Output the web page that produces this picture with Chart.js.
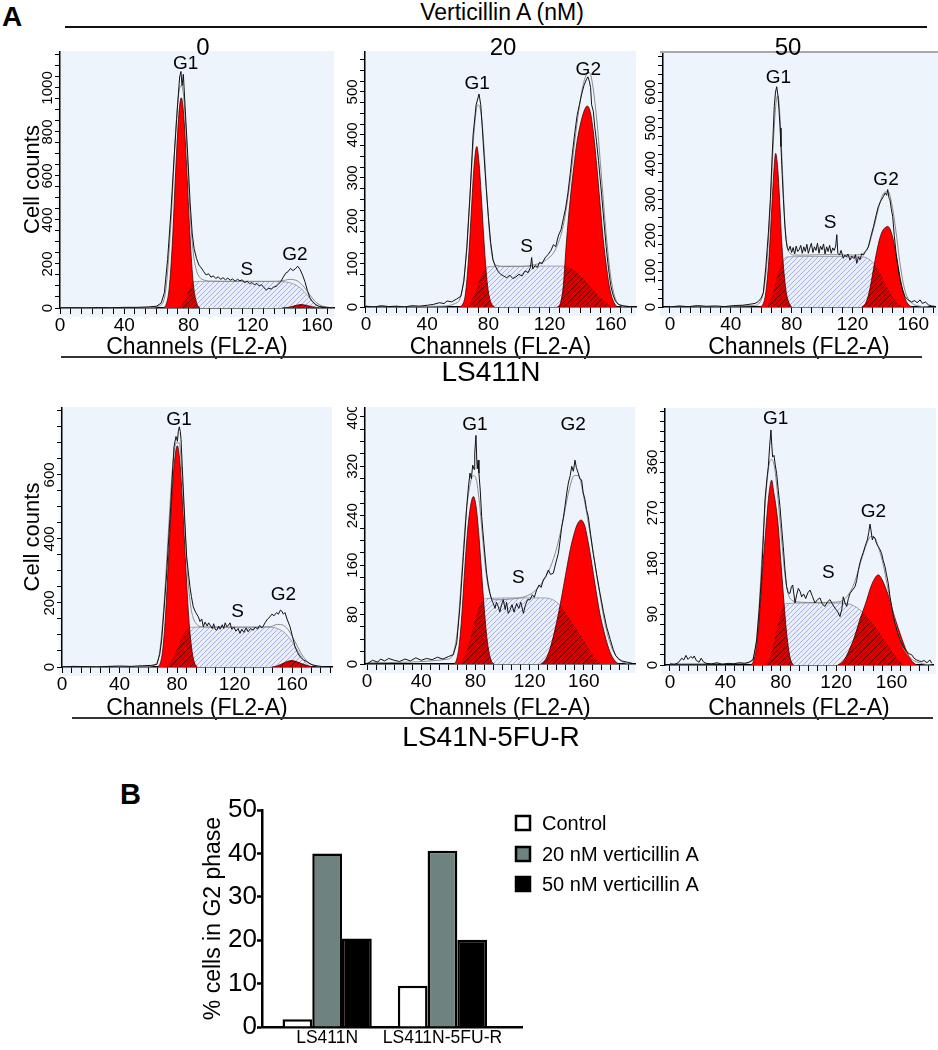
<!DOCTYPE html>
<html><head><meta charset="utf-8">
<script src="https://cdn.jsdelivr.net/npm/chart.js@4.4.1/dist/chart.umd.min.js"></script>
<style>
html,body{margin:0;padding:0;background:#fff;}
#fig{position:relative;width:938px;height:1050px;overflow:hidden;background:#fff;font-family:'Liberation Sans',Arial,sans-serif;}
#fig canvas{position:absolute;}
.t{position:absolute;white-space:nowrap;line-height:1;color:#000;z-index:3;}
.hl{position:absolute;z-index:2;}
</style></head><body><div id="fig"></div>
<script>
// ---------------- DATA ----------------
// Each histogram: [channel, cell count] pairs
const p1Obs = [[0,0],[8,1],[16,0],[24,2],[32,1],[40,3],[48,3],[55,5],[60,8],[63,22],[65,70],[67,220],[69,430],[71,680],[73,900],[74.5,1050],[75.3,1075],[76,1010],[76.8,1062],[78,900],[79.5,700],[81,480],[82.3,340],[83.5,270],[85,225],[86.5,195],[88,182],[89.5,165],[91,150],[92.5,156],[94,140],[95.5,146],[97,134],[98.5,142],[100,130],[101.5,138],[103,128],[104.5,136],[106,126],[107.5,132],[109,122],[110.5,130],[112,124],[113.5,128],[115,115],[116.5,122],[118,110],[119.5,116],[121,105],[122.5,112],[124,100],[125.5,106],[127,92],[128.5,82],[130,90],[131.5,86],[133,95],[134.5,98],[136,108],[137.5,120],[139,140],[140.5,158],[142,165],[143.5,180],[145,170],[146.5,178],[148,190],[149.5,175],[151,150],[152.5,120],[154,80],[155.5,48],[157,30],[159,16],[161,8],[164,4],[168,2],[170,1]];
const p1Fit = [[0,0],[55,2],[62,10],[66,90],[69,380],[72,800],[74,980],[75.5,1010],[77,960],[79,720],[81,430],[83,250],[85,170],[87,140],[90,126],[95,122],[110,121],[130,121],[138,123],[143,130],[148,122],[152,95],[156,55],[160,22],[165,5],[170,1]];
const p1G1 = [[64,0],[66,15],[68,90],[70,300],[72,620],[74,880],[75.5,955],[77,880],[79,620],[81,320],[83,110],[85,25],[87,0]];
const p1S = [[72,0],[75,8],[78,40],[80,80],[82,110],[84,120],[90,121],[110,121],[130,121],[138,120],[143,115],[148,100],[152,75],[156,40],[160,12],[163,0]];
const p1G2 = [[138,0],[143,4],[147,12],[150,16],[153,13],[157,6],[161,1],[164,0]];
const p1Notes = [['G1',78.3,1112],['S',116.3,173],['G2',146.3,241]];

const p2Obs = [[0,2],[5,0],[10,3],[15,1],[20,2],[25,0],[30,3],[35,2],[40,4],[44,6],[48,10],[51,8],[53,14],[56,12],[59,18],[62,25],[64,60],[66,140],[68,260],[70,400],[72,470],[73.9,495],[75,470],[75.8,430],[77,360],[78.5,280],[80,210],[81.5,150],[83,110],[84.5,95],[86.5,82],[88,76],[90,72],[92,68],[94,74],[96,66],[98,70],[100,76],[102,72],[104,84],[106,80],[107.5,92],[108.3,115],[109,88],[110.5,96],[112,92],[113.5,104],[115,100],[117,114],[119,122],[121,132],[122.5,145],[124,140],[125.7,165],[127.5,180],[129,205],[130.5,230],[132,265],[133.5,310],[135,360],[136.5,405],[138,445],[139.5,470],[141,495],[142.5,515],[144,528],[145,535],[146,525],[146.8,510],[147.5,470],[148.6,455],[149.5,420],[150.7,385],[152,340],[153,300],[154,262],[155.5,200],[157,140],[158.5,90],[160,50],[161.5,28],[163,14],[165,6],[168,3],[172,1],[176,0]];
const p2Fit = [[0,0],[50,2],[58,8],[62,25],[65,100],[68,260],[70.5,400],[73,470],[75,455],[77,380],[79,260],[81,160],[83,110],[86,96],[90,94],[100,94],[110,98],[118,110],[124,135],[129,190],[133,280],[137,400],[141,500],[144,540],[146,545],[148,520],[151,430],[154,300],[157,170],[160,70],[163,20],[166,4],[170,0]];
const p2G1 = [[61,0],[63,5],[65,30],[67,110],[69,230],[70.5,320],[72.4,373],[74,330],[75.5,250],[77,160],[78.5,85],[80,35],[82,8],[84,0]];
const p2S = [[64,0],[67,6],[70,22],[73,50],[75.5,75],[78,90],[80,94],[90,95],[110,95],[128,95],[132,93],[136,86],[140,74],[144,58],[148,42],[152,26],[156,13],[160,4],[163,0]];
const p2G2 = [[125,0],[127,8],[129,50],[131,150],[133.5,250],[136,330],[138,385],[140.5,430],[142.5,455],[144.6,467],[146.5,455],[148.5,410],[150.8,330],[153,240],[155,160],[157.3,90],[159.5,40],[161.5,15],[164,0]];
const p2Notes = [['G1',72.7,520],['S',105,140],['G2',145.3,551]];

const p3Obs = [[0,0],[6,3],[12,1],[18,4],[24,2],[30,3],[36,1],[42,4],[48,5],[53,8],[56,10],[58,15],[60,25],[61.4,40],[63,110],[64.7,206],[66,300],[66.9,392],[67.8,480],[68.6,560],[69.4,600],[70.2,615],[71,590],[71.7,550],[72.4,500],[73,448],[73.8,370],[74.6,300],[75.5,230],[76.3,188],[77.2,165],[78,158],[79,170],[80,152],[81,166],[82,148],[83,170],[84,155],[85,160],[86,172],[87,150],[88,168],[89,155],[90,175],[91,150],[92,165],[93,178],[94,152],[95,168],[96,158],[97,178],[98,150],[99,170],[100,160],[101,176],[102,148],[103,168],[104,155],[105,172],[106,150],[107,165],[108,158],[109,170],[109.7,202],[110.4,150],[111.5,145],[112.5,158],[114,136],[115,145],[116,140],[117,148],[118.4,131],[119.5,142],[121,135],[122,146],[122.8,122],[124,140],[125,132],[126,148],[127.2,145],[128.5,155],[129.5,160],[130.5,168],[132,195],[133.8,224],[135.5,255],[137,280],[138.5,295],[140.3,308],[141.5,318],[142.5,312],[143.2,328],[144,305],[144.7,299],[145.5,275],[146.5,252],[147.5,200],[148.7,150],[150,110],[151.3,75],[153,48],[154.6,29],[156.5,20],[159,14],[161,18],[162.5,12],[164.5,20],[166,10],[168,14],[170,6],[172,3],[174,2]];
const p3Fit = [[0,0],[55,4],[60,20],[63,90],[65.5,240],[67.5,420],[69.5,560],[71,590],[72.5,520],[74,380],[75.5,240],[77,170],[79,150],[82,145],[90,145],[100,146],[110,146],[120,145],[126,148],[130,165],[134,220],[138,290],[141,320],[143.5,322],[146,285],[148.5,215],[151,130],[153.5,65],[156,28],[160,8],[165,2],[170,0]];
const p3G1 = [[59,0],[61,6],[63,40],[65,130],[67,280],[68.5,390],[69.5,429],[70.8,390],[72.2,290],[73.5,180],[75,95],[76.5,40],[78.5,10],[80,0]];
const p3S = [[62,0],[64,5],[66,20],[68,45],[70,78],[72,108],[74,128],[76,138],[78,140],[90,141],[110,141],[126,140],[130,136],[133,126],[136,110],[139,88],[142,62],[145,38],[148,18],[151,6],[154,0]];
const p3G2 = [[126,0],[128,6],[130,25],[132,62],[134,110],[136,155],[138,192],[140,214],[142,223],[143.2,225],[145,215],[147,185],[149,140],[151,90],[153,48],[155,20],[157,6],[159,0]];
const p3Notes = [['G1',71.3,639],['S',105.3,234],['G2',142.1,355]];

const p4Obs = [[0,0],[8,2],[16,1],[24,0],[32,2],[40,3],[48,2],[56,4],[62,5],[66,8],[68,40],[69.3,84],[71,180],[72.8,293],[74.2,400],[75.6,501],[76.8,600],[77.9,688],[79.3,720],[80.3,705],[80.9,735],[81.6,750],[82.3,735],[82.8,710],[83.6,630],[84.4,553],[85.5,450],[86.7,345],[88,290],[89,251],[90,220],[91.3,188],[93,170],[94.8,157],[96,142],[97.2,150],[98.3,126],[99.5,140],[101,128],[102,138],[103,131],[104.5,120],[105.5,135],[106.5,118],[107.6,115],[109,128],[110,118],[111.5,132],[112.5,120],[113.5,138],[114.6,126],[115.8,130],[116.9,138],[118,118],[119.5,125],[121,112],[122.5,120],[123.8,105],[125,118],[126.5,108],[128,122],[129.5,110],[131,120],[133.1,115],[134.5,125],[136,118],[137.5,130],[139,122],[140,128],[141.5,140],[143,150],[144.7,157],[146,165],[147.5,160],[149.3,170],[150.5,165],[152,178],[152.8,175],[154,165],[155.1,170],[156.5,150],[158.6,126],[160.3,95],[162.1,63],[163.8,45],[165.6,32],[168,22],[170.2,17],[172.5,10],[174.8,6],[178,3],[182,1],[186,0]];
const p4Fit = [[0,0],[60,2],[65,8],[68,50],[71,200],[74,420],[77,630],[79.5,700],[81.5,700],[83.5,600],[85.5,430],[87.5,280],[89.5,190],[91.5,150],[94,132],[98,125],[110,124],[130,124],[145,126],[150,133],[154,130],[158,112],[162,80],[166,45],[170,20],[174,7],[178,2],[182,0]];
const p4G1 = [[66,0],[68,8],[70,50],[72,160],[74,330],[76,500],[78,630],[80.2,691],[82,640],[84,500],[86,320],[88,165],[90,65],[92,15],[94,0]];
const p4S = [[71,0],[73,4],[76,18],[79,45],[82,78],[85,105],[87.5,118],[90,124],[110,125],[130,125],[146,124],[150,120],[154,110],[158,92],[162,65],[166,36],[169,15],[172,3],[174,0]];
const p4G2 = [[146,0],[150,4],[154,12],[157,18],[160,20],[163,17],[167,10],[171,4],[175,0]];
const p4Notes = [['G1',81.4,772],['S',122.2,173],['G2',154,225]];

const p5Obs = [[0,0],[4,6],[8,3],[10,8],[13,5],[16,9],[20,6],[24,4],[28,8],[32,5],[36,10],[40,6],[44,9],[48,7],[52,11],[56,8],[60,12],[63.7,15],[66.2,34],[68.6,93],[71.1,174],[73.6,255],[75,290],[76,309],[77,300],[78,322],[79,315],[79.5,341],[80.4,370],[81,330],[81.4,316],[82,330],[82.6,309],[83.6,280],[84.6,239],[85.5,215],[86.3,195],[87.3,170],[88.3,147],[89.5,128],[90.8,114],[92,104],[93.2,98],[94.5,90],[95.5,100],[96.9,93],[98,84],[99.3,96],[100.6,104],[102,88],[103,100],[104.2,82],[105.5,87],[107,96],[108.5,84],[110.4,98],[112,90],[113.5,100],[115.4,82],[117,96],[118.5,104],[120.3,104],[122,112],[123.5,108],[125.2,120],[127,128],[128.5,124],[130.1,136],[132,142],[133.8,152],[135.5,145],[137.5,147],[139.5,165],[141.2,179],[142.5,200],[143.7,222],[145,238],[146.1,255],[147.3,275],[148.6,293],[150,305],[151.1,320],[152.3,312],[153.5,330],[154.5,318],[155.9,309],[157,300],[158.4,298],[159.5,278],[160.9,266],[162,250],[163.3,239],[165,210],[167,179],[169.5,145],[172,114],[174.5,85],[176.9,60],[179.5,40],[181.8,23],[183.5,14],[185.5,9],[188,5],[192,3],[196,1]];
const p5Fit = [[0,2],[60,8],[64,20],[67,60],[70,150],[73,240],[76,290],[78.5,305],[80.5,300],[83,260],[85.5,200],[88,145],[90.5,115],[93,104],[97,104],[105,105],[115,108],[122,115],[128,128],[134,150],[139,180],[144,225],[149,280],[153,305],[156,305],[160,270],[164,220],[168,165],[172,110],[176,62],[180,30],[184,12],[188,4],[194,0]];
const p5G1 = [[64,0],[66,6],[68,30],[70,80],[72,150],[74,210],[76,250],[78.5,271],[80.5,255],[82.5,210],[84.5,150],[86.5,90],[88.5,42],[90.5,14],[92.5,2],[94,0]];
const p5S = [[67,0],[70,5],[73,18],[76,40],[79,66],[82,88],[85,101],[88,106],[110,107],[130,107],[136,105],[140,100],[145,88],[150,72],[155,55],[160,38],[165,20],[169,8],[173,0]];
const p5G2 = [[128,0],[131,5],[134,18],[137,40],[140,68],[142.5,95],[145,125],[148,162],[150,185],[152.5,208],[155,225],[157.9,233],[160.5,225],[163,200],[165,175],[167,147],[169.5,112],[172,80],[174.4,57],[177,35],[180,16],[183,5],[186,0]];
const p5Notes = [['G1',79.7,387],['S',111.7,139],['G2',152.2,387]];

const p6Obs = [[0,2],[3,1],[6,4],[8.5,12],[10,9],[11.5,17],[13,10],[15,15],[16.5,12],[17.5,16],[19,8],[21,5],[22.5,12],[24,6],[26,3],[30,2],[34,4],[38,1],[42,3],[46,2],[50,4],[54,3],[57,5],[60,9],[62.6,44],[64.5,100],[66.2,163],[67.5,230],[68.6,293],[70,330],[71,352],[72,390],[72.9,417],[73.5,390],[74.1,369],[75.1,372],[76,355],[77,340],[78.2,310],[79.4,281],[80.6,245],[81.8,210],[83,170],[84.2,139],[85.4,128],[86.6,127],[87.6,138],[88.6,142],[89.5,125],[90.3,110],[91.5,125],[92.7,136],[94,130],[95.1,121],[96.5,126],[98,118],[99.5,128],[101.1,133],[102.8,122],[104.7,110],[106.5,116],[108.3,119],[110,108],[111.9,104],[113.7,112],[115.5,116],[117.3,108],[119.1,101],[121,95],[122.7,86],[124,98],[125.1,121],[126.4,110],[127.6,104],[128.8,118],[130,127],[131.8,133],[133.6,139],[134.8,150],[136,168],[137.2,182],[138.4,192],[139.6,200],[140.8,210],[141.6,216],[142.5,222],[143.5,235],[144.4,250],[145.2,238],[146.1,222],[147,228],[148,225],[149.2,215],[150.4,210],[151.6,205],[152.8,198],[154,185],[155.2,175],[156.4,160],[157.6,145],[158.8,122],[160,104],[161.2,88],[162.5,74],[164.3,58],[166.1,44],[168.5,32],[170.9,24],[172.7,20],[174.5,18],[176.3,12],[178.1,9],[180,7],[181.7,6],[183.5,8],[185.5,4],[187.7,9],[189,3]];
const p6Fit = [[0,2],[55,3],[59,8],[62,35],[64.5,110],[67,220],[69.5,310],[71.5,355],[73.5,365],[75.5,350],[78,295],[80.5,225],[83,160],[85.5,125],[88,115],[92,112],[100,111],[112,111],[122,112],[128,122],[133,145],[138,185],[142,215],[145,228],[148,225],[151,205],[154,178],[157,140],[160,105],[163,72],[166,46],[169,28],[172,17],[176,8],[180,4],[185,1],[189,0]];
const p6G1 = [[58,0],[60,5],[62,25],[64,70],[65.5,120],[67,175],[68.6,222],[70,265],[71.8,310],[73.4,328],[75,305],[76.6,280],[78.2,245],[80,185],[81.8,127],[83.6,72],[85.4,32],[87,10],[89,0]];
const p6S = [[68,0],[70,4],[72,14],[74,30],[76,50],[78,72],[80,92],[82,104],[84,109],[100,110],[120,110],[128,109],[132,106],[136,100],[140,92],[145,78],[150,62],[155,44],[160,26],[164,12],[167,4],[169,0]];
const p6G2 = [[121,0],[124,4],[127,14],[130,30],[132.5,45],[134.8,62],[137,80],[139.5,97],[142,115],[144.5,135],[147,150],[150.4,160],[153,152],[155.5,138],[158.8,115],[161,95],[163.5,75],[166.1,56],[169,36],[172,18],[175,6],[178,0]];
const p6Notes = [['G1',76.3,437],['S',114.3,163],['G2',146.8,272]];

// Panel B
const cellLines = ['LS411N', 'LS411N-5FU-R'];
const seriesNames = ['Control', '20 nM verticillin A', '50 nM verticillin A'];
const control = [1.8, 9.5];
const nm20 = [40.0, 40.6];
const nm50 = [20.4, 20.1];

// ---------------- LAYOUT ----------------
const FONT = "'Liberation Sans', Arial, sans-serif";
Chart.defaults.font.family = FONT;
Chart.defaults.color = '#000';
const fig = document.getElementById('fig');

const panels = [
  {obs:p1Obs, fit:p1Fit, g1:p1G1, s:p1S, g2:p1G2, notes:p1Notes, area:[60,51,334,308], x:[0,170.6], ymax:1168, minor:50, major:200, maxLabel:1000, yTitle:'Cell counts', bottom:361},
  {obs:p2Obs, fit:p2Fit, g1:p2G1, s:p2S, g2:p2G2, notes:p2Notes, area:[365,51,636,307], x:[-0.65,176.5], ymax:595, minor:25, major:100, maxLabel:500, bottom:361},
  {obs:p3Obs, fit:p3Fit, g1:p3G1, s:p3S, g2:p3G2, notes:p3Notes, area:[663,52,935,307], x:[-4.6,174.3], ymax:712, minor:25, major:100, maxLabel:600, bottom:361},
  {obs:p4Obs, fit:p4Fit, g1:p4G1, s:p4S, g2:p4G2, notes:p4Notes, area:[62,407,332,667], x:[0,187.8], ymax:812, minor:50, major:200, maxLabel:600, yTitle:'Cell counts', bottom:722},
  {obs:p5Obs, fit:p5Fit, g1:p5G1, s:p5S, g2:p5G2, notes:p5Notes, area:[365,407,635,664], x:[-1.5,197.8], ymax:416, minor:20, major:80, maxLabel:400, bottom:722},
  {obs:p6Obs, fit:p6Fit, g1:p6G1, s:p6S, g2:p6G2, notes:p6Notes, area:[665,408,933,665], x:[-3.6,189.9], ymax:456, minor:18, major:90, maxLabel:360, bottom:722}
];

function hatch(bg, line, size, lw) {
  const c = document.createElement('canvas'); c.width = size; c.height = size;
  const g = c.getContext('2d');
  if (bg) { g.fillStyle = bg; g.fillRect(0, 0, size, size); }
  g.strokeStyle = line; g.lineWidth = lw; g.beginPath();
  g.moveTo(0, size); g.lineTo(size, 0);
  g.moveTo(-size/2, size/2); g.lineTo(size/2, -size/2);
  g.moveTo(size/2, size*1.5); g.lineTo(size*1.5, size/2);
  g.stroke();
  return g.createPattern(c, 'repeat');
}
const sPattern = hatch('#e9eefa', '#a3b1e0', 5, 1);
const darkPattern = hatch(null, 'rgba(60,0,0,0.75)', 5, 1);

const bgPlugin = {
  id: 'panelBg',
  beforeDraw(chart, args, o) {
    const {ctx, chartArea: a} = chart;
    ctx.save(); ctx.fillStyle = '#eef4fb';
    ctx.fillRect(a.left - 3, a.top, a.right - a.left + 3 + (o.extraRight || 0), a.bottom - a.top + 9);
    ctx.restore();
  }
};
function tracePath(ctx, meta, yb) {
  const pts = meta.data;
  meta.dataset.path(ctx);
  ctx.lineTo(pts[pts.length - 1].x, yb);
  ctx.lineTo(pts[0].x, yb);
  ctx.closePath();
}
const overlapPlugin = {
  id: 'overlap',
  afterDatasetDraw(chart, args, o) {
    if (args.index !== o.after) return;
    const ctx = chart.ctx, a = chart.chartArea, yb = chart.scales.y.getPixelForValue(0);
    ctx.save();
    ctx.beginPath(); ctx.rect(a.left, a.top, a.right - a.left, a.bottom - a.top); ctx.clip();
    ctx.beginPath(); tracePath(ctx, chart.getDatasetMeta(o.s), yb); ctx.clip();
    o.reds.forEach(i => {
      ctx.beginPath(); tracePath(ctx, chart.getDatasetMeta(i), yb);
      ctx.fillStyle = 'rgba(120,0,0,0.3)'; ctx.fill();
      ctx.fillStyle = darkPattern; ctx.fill();
    });
    ctx.restore();
  }
};
const rotTickPlugin = {
  id: 'rotTicks',
  afterDraw(chart, args, o) {
    const s = chart.scales.y, ctx = chart.ctx;
    ctx.save();
    ctx.font = o.size + 'px ' + FONT; ctx.fillStyle = '#000';
    ctx.textAlign = 'center'; ctx.textBaseline = 'middle';
    s.ticks.forEach(t => {
      const r = t.value / o.major;
      if (Math.abs(r - Math.round(r)) < 1e-6 && t.value <= o.maxLabel + 1e-6) {
        ctx.save();
        ctx.translate(s.right - o.offset, s.getPixelForValue(t.value));
        ctx.rotate(-Math.PI / 2);
        ctx.fillText(String(Math.round(t.value)), 0, 1);
        ctx.restore();
      }
    });
    ctx.restore();
  }
};
const notesPlugin = {
  id: 'notes',
  afterDatasetsDraw(chart, args, o) {
    const ctx = chart.ctx, xs = chart.scales.x, ys = chart.scales.y;
    ctx.save();
    ctx.font = o.size + 'px ' + FONT; ctx.fillStyle = '#000';
    ctx.textAlign = 'center'; ctx.textBaseline = 'middle';
    o.items.forEach(([txt, x, y]) => ctx.fillText(txt, xs.getPixelForValue(x), ys.getPixelForValue(y)));
    ctx.restore();
  }
};

function makeCanvas(left, top, w, h) {
  const c = document.createElement('canvas');
  c.width = w; c.height = h;
  c.style.left = left + 'px'; c.style.top = top + 'px';
  c.style.width = w + 'px'; c.style.height = h + 'px';
  fig.appendChild(c);
  return c;
}
const xy = arr => arr.map(([x, y]) => ({x, y}));

panels.forEach((p, i) => {
  const [L, T, R, B] = p.area;
  const cLeft = p.yTitle ? 20 : L - 30;
  const extra = (i % 3 === 2) ? 3 : 0;
  const cRight = R + 2 + extra;
  const canvas = makeCanvas(cLeft, T, cRight - cLeft, p.bottom - T);
  new Chart(canvas, {
    type: 'line',
    data: { datasets: [
      {label: 'Observed', data: xy(p.obs), borderColor: '#111', borderWidth: 1, tension: 0, fill: false, order: 0},
      {label: 'Fit', data: xy(p.fit), borderColor: '#8a8a8a', borderWidth: 1, cubicInterpolationMode: 'monotone', fill: false, order: 1},
      {label: 'G1', data: xy(p.g1), borderColor: '#4a0000', borderWidth: 0.8, backgroundColor: '#ff0000', fill: 'origin', cubicInterpolationMode: 'monotone', order: 2},
      {label: 'G2', data: xy(p.g2), borderColor: '#4a0000', borderWidth: 0.8, backgroundColor: '#ff0000', fill: 'origin', cubicInterpolationMode: 'monotone', order: 3},
      {label: 'S', data: xy(p.s), borderColor: '#8d8fa0', borderWidth: 0.8, backgroundColor: sPattern, fill: 'origin', cubicInterpolationMode: 'monotone', order: 4}
    ]},
    options: {
      responsive: false, animation: false, devicePixelRatio: 1,
      layout: {padding: {left: 0, top: 0, right: cRight - R, bottom: 0}},
      elements: {point: {radius: 0, hoverRadius: 0}},
      events: [],
      plugins: {
        legend: {display: false}, tooltip: {enabled: false},
        panelBg: {extraRight: extra},
        overlap: {s: 4, reds: [2, 3], after: 2},
        rotTicks: {major: p.major, maxLabel: p.maxLabel, offset: 13, size: 15},
        notes: {items: p.notes, size: 19}
      },
      scales: {
        x: {
          type: 'linear', min: p.x[0], max: p.x[1], offset: false,
          afterBuildTicks: s => { const t = []; for (let k = 0; k * 40 / 6 <= s.max + 1e-9; k++) t.push({value: k * 40 / 6}); s.ticks = t; },
          afterFit: s => { s.height = p.bottom - B; },
          ticks: {autoSkip: false, maxRotation: 0, minRotation: 0, padding: 0, font: {size: 19}, color: '#000',
            callback: v => { const r = v / 40; return Math.abs(r - Math.round(r)) < 1e-6 ? String(Math.round(v)) : ''; }},
          grid: {display: true, drawOnChartArea: false, drawTicks: true, tickLength: 6, tickColor: '#000', tickWidth: 1},
          border: {display: true, color: '#000', width: 1.5},
          title: {display: true, text: 'Channels (FL2-A)', font: {size: 23}, padding: 0, color: '#000'}
        },
        y: {
          type: 'linear', min: 0, max: p.ymax,
          afterBuildTicks: s => { const t = []; for (let v = 0; v <= s.max + 1e-9; v += p.minor) t.push({value: v}); s.ticks = t; },
          afterFit: s => { s.width = L - cLeft; },
          ticks: {display: false},
          grid: {display: true, drawOnChartArea: false, drawTicks: true, tickLength: 5, tickColor: '#000', tickWidth: 1},
          border: {display: true, color: '#000', width: 1.5},
          title: p.yTitle ? {display: true, text: p.yTitle, font: {size: 22}, padding: 0, color: '#000'} : {display: false}
        }
      }
    },
    plugins: [bgPlugin, overlapPlugin, rotTickPlugin, notesPlugin]
  });
});

// ---------------- Panel B bar chart ----------------
const barLegend = {
  id: 'barLegend',
  afterDraw(chart, args, o) {
    const ctx = chart.ctx, a = chart.chartArea;
    ctx.save();
    chart.data.datasets.forEach((ds, i) => {
      const y = a.top + o.rows[i];
      const bx = a.right + o.boxDx;
      ctx.fillStyle = ds.backgroundColor;
      ctx.fillRect(bx, y - o.box / 2, o.box, o.box);
      ctx.lineWidth = 2.5; ctx.strokeStyle = '#000';
      ctx.strokeRect(bx, y - o.box / 2, o.box, o.box);
      ctx.fillStyle = '#000'; ctx.font = o.size + 'px ' + FONT;
      ctx.textAlign = 'left'; ctx.textBaseline = 'middle';
      ctx.fillText(ds.label, a.right + o.textDx, y + 1);
    });
    ctx.restore();
  }
};
(function () {
  const L = 262, T = 810, R = 522, B = 1027;
  const cLeft = 200, cTop = 790, cRight = 720, cBottom = 1050;
  const canvas = makeCanvas(cLeft, cTop, cRight - cLeft, cBottom - cTop);
  const colors = ['#ffffff', '#6e827f', '#000000'];
  const vals = [control, nm20, nm50];
  new Chart(canvas, {
    type: 'bar',
    data: { datasets: vals.map((v, i) => ({
      label: seriesNames[i], data: v.map((y, k) => ({x: k, y})),
      backgroundColor: colors[i], borderColor: '#000', borderWidth: 2.5,
      categoryPercentage: 0.774, barPercentage: 1
    }))},
    options: {
      responsive: false, animation: false, devicePixelRatio: 1, events: [],
      layout: {padding: {left: 0, top: T - cTop, right: cRight - R, bottom: 0}},
      plugins: {legend: {display: false}, tooltip: {enabled: false},
        barLegend: {rows: [13, 44, 74], box: 14, boxDx: -6, textDx: 20, size: 20}},
      scales: {
        x: {
          type: 'linear', min: -0.565, max: 1.69, offset: false,
          afterBuildTicks: s => { s.ticks = cellLines.map((c, k) => ({value: k})); },
          afterFit: s => { s.height = cBottom - B; },
          ticks: {autoSkip: false, maxRotation: 0, padding: 1, font: {size: 17.5}, color: '#000', callback: v => cellLines[v]},
          grid: {display: false, drawTicks: false, offset: false},
          border: {display: true, color: '#000', width: 2.5}
        },
        y: {
          min: 0, max: 50,
          afterFit: s => { s.width = L - cLeft; },
          ticks: {stepSize: 10, padding: 0, font: {size: 26}, color: '#000'},
          grid: {display: true, drawOnChartArea: false, drawTicks: true, tickLength: 5, tickColor: '#000', tickWidth: 2.5},
          border: {display: true, color: '#000', width: 2.5},
          title: {display: true, text: '% cells in G2 phase', font: {size: 23}, padding: 0, color: '#000'}
        }
      }
    },
    plugins: [barLegend]
  });
})();

// ---------------- Figure annotations (text and rules) ----------------
function addText(txt, x, baseline, size, opts) {
  opts = opts || {};
  const d = document.createElement('div');
  d.className = 't'; d.textContent = txt;
  d.style.fontSize = size + 'px';
  if (opts.bold) d.style.fontWeight = 'bold';
  d.style.top = (baseline - 0.8465 * size) + 'px';
  d.style.left = x + 'px';
  if (opts.center) d.style.transform = 'translateX(-50%)';
  fig.appendChild(d);
}
function addRule(x1, x2, y, h, color) {
  const d = document.createElement('div');
  d.className = 'hl';
  d.style.left = x1 + 'px'; d.style.width = (x2 - x1) + 'px';
  d.style.top = (y - h / 2) + 'px'; d.style.height = h + 'px';
  d.style.background = color;
  fig.appendChild(d);
}
addText('A', 2, 27, 28, {bold: true});
addText('Verticillin A (nM)', 502, 20.5, 23, {center: true});
addRule(65, 927, 27, 2, '#111');
addRule(660, 938, 52, 2, '#a8a8a8');
addText('0', 203, 55, 24, {center: true});
addText('20', 503, 55, 24, {center: true});
addText('50', 788, 55, 24, {center: true});
addRule(61, 922, 357, 2, '#333');
addText('LS411N', 491, 382, 28, {center: true});
addRule(72, 933, 718, 2, '#333');
addText('LS41N-5FU-R', 491, 747, 28, {center: true});
addText('B', 120, 805, 29, {bold: true});
</script></body></html>
